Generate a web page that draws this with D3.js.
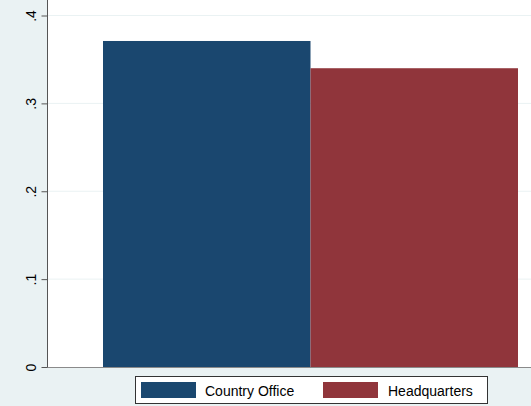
<!DOCTYPE html>
<html><head><meta charset="utf-8">
<script src="https://cdn.jsdelivr.net/npm/d3@7"></script>
<style>body{margin:0;background:#eaf2f3}svg{display:block}</style>
</head><body>
<svg id="c" width="531" height="406"></svg>
<script>
const categories = ["Country Office", "Headquarters"];
const values = [0.371, 0.340];
const colors = ["#1a476f", "#90353b"];
const yTicks = [0, 0.1, 0.2, 0.3, 0.4];
const yTickLabels = ["0", ".1", ".2", ".3", ".4"];

const W = 531, H = 406;
const plot = {left: 47, right: 531, top: 0, bottom: 367};
const svg = d3.select("#c");
svg.append("rect").attr("width", W).attr("height", H).attr("fill", "#eaf2f3");
svg.append("rect").attr("x", plot.left).attr("y", plot.top)
  .attr("width", plot.right - plot.left).attr("height", plot.bottom - plot.top).attr("fill", "#fff");

const y = d3.scaleLinear().domain([0, 0.4]).range([plot.bottom, 15.5]);
const x = d3.scaleBand().domain(categories).range([103, 518]).padding(0);

// gridlines
svg.append("g").selectAll("line").data(yTicks.filter(d => d > 0)).join("line")
  .attr("x1", plot.left).attr("x2", plot.right)
  .attr("y1", d => y(d)).attr("y2", d => y(d))
  .attr("stroke", "#eaf2f3").attr("stroke-width", 1);

// bars
svg.append("g").selectAll("rect").data(categories).join("rect")
  .attr("x", d => x(d)).attr("width", x.bandwidth())
  .attr("y", (d, i) => y(values[i])).attr("height", (d, i) => y(0) - y(values[i]))
  .attr("fill", (d, i) => colors[i]);

// bottom border
svg.append("line").attr("x1", plot.left).attr("x2", plot.right)
  .attr("y1", plot.bottom + 0.5).attr("y2", plot.bottom + 0.5)
  .attr("stroke", "#8a8a8a").attr("stroke-width", 1);

// y axis
const axis = d3.axisLeft(y).tickValues(yTicks).tickFormat((d, i) => yTickLabels[i]).tickSize(6).tickPadding(0);
const ga = svg.append("g").attr("transform", `translate(${plot.left + 0.5},0)`).call(axis);
ga.select(".domain").attr("d", `M0,0V${plot.bottom}`).attr("stroke", "#555");
ga.selectAll(".tick line").attr("stroke", "#555");
ga.selectAll(".tick text")
  .attr("font-family", "Liberation Sans, Arial, sans-serif").attr("font-size", 14).attr("fill", "#000")
  .attr("x", 0).attr("dy", null).attr("text-anchor", "middle")
  .attr("transform", "translate(-12,0) rotate(-90)");

// legend
const lg = svg.append("g");
lg.append("rect").attr("x", 135.5).attr("y", 376.5).attr("width", 352).attr("height", 27)
  .attr("fill", "#fff").attr("stroke", "#333").attr("stroke-width", 1);
const items = [{sx: 141, tx: 205}, {sx: 323, tx: 388}];
categories.forEach((c, i) => {
  lg.append("rect").attr("x", items[i].sx).attr("y", 382).attr("width", 55).attr("height", 16).attr("fill", colors[i]);
  lg.append("text").attr("x", items[i].tx).attr("y", 396)
    .attr("font-family", "Liberation Sans, Arial, sans-serif").attr("font-size", 14).attr("fill", "#000").text(c);
});
</script>
</body></html>
